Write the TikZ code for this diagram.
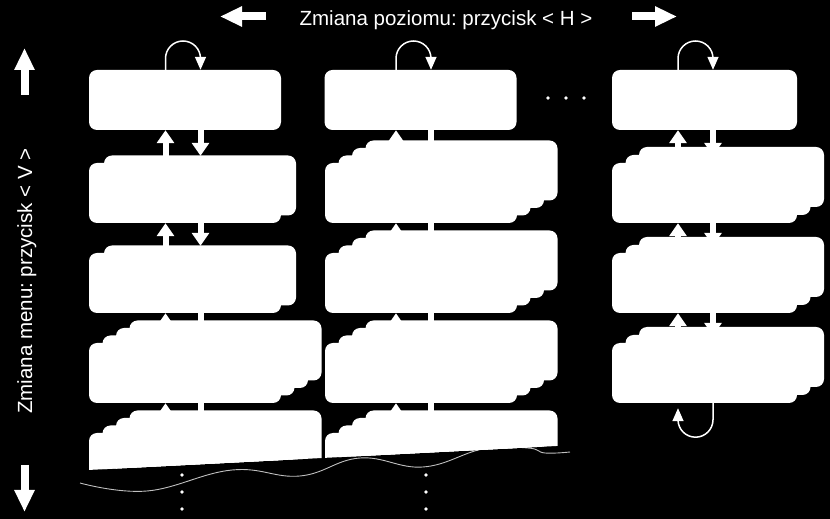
\documentclass[tikz,border=0pt]{standalone}
\usepackage{fontspec}
\setmainfont{Liberation Sans}
\frenchspacing
\usetikzlibrary{arrows.meta}
\pgfdeclarelayer{back}
\pgfsetlayers{back,main}
\tikzset{
  menu/.style={fill=white, rounded corners=8pt, minimum width=192pt, minimum height=60pt, inner sep=0pt},
  slim/.style={minimum width=185pt},
  updown/.style={draw=white, line width=6pt, -{Triangle[width=17pt,length=13pt]}},
  loopback/.style={draw=white, line width=1.5pt, -{Triangle[width=11pt,length=13pt]}},
  bigarrow/.style={draw=white, line width=8pt, -{Triangle[width=19pt,length=22pt]}},
  seam/.style={draw=white!75!black, line width=0.9pt},
  hint/.style={text=white, font=\fontsize{20.5}{24}\selectfont, anchor=base, inner sep=0pt}
}
\begin{document}
\begin{tikzpicture}[x=1pt, y=1pt]
    \useasboundingbox (0,0) rectangle (830,519);

    % x positions of the up and down arrows in each column
    \coordinate (up1) at (165.5,0);
    \coordinate (dn1) at (200.5,0);
    \coordinate (up2) at (396,0);
    \coordinate (dn2) at (431,0);
    \coordinate (up3) at (678,0);
    \coordinate (dn3) at (713,0);

    % First column
    \node[menu] (r1c1) at (185,419) {};
    \node[menu] (r2c1) at (185,326) {};
    \node[menu] (r3c1) at (185,236) {};
    \node[menu] (r4c1) at (185,146) {};

    % Second column
    \node[menu] (r1c2) at (420.5,419) {};
    \node[menu] (r2c2) at (421,326) {};
    \node[menu] (r3c2) at (421,236) {};
    \node[menu] (r4c2) at (421,146) {};

    % Last column
    \node[menu, slim] (r1c3) at (704.5,419) {};
    \node[menu, slim] (r2c3) at (704.5,326) {};
    \node[menu, slim] (r3c3) at (704.5,236) {};
    \node[menu, slim] (r4c3) at (704.5,146) {};

    % Stacked copies behind the menus with several entries
    \foreach \n in {r2c1, r3c1}
        \node[menu] (\n-1) at ([shift={(15,7.5)}]\n) {};
    \foreach \n in {r4c1, r2c2, r3c2, r4c2}
        \foreach \i in {1,2,3}
            \node[menu] (\n-\i) at ([shift={(\i*13.5,\i*7.5)}]\n) {};
    \foreach \n in {r2c3, r3c3, r4c3}
        \foreach \i in {1,2}
            \node[menu, slim] (\n-\i) at ([shift={(\i*13.5,\i*8)}]\n) {};

    % Bottom row, cut off by the slanted edge
    \begin{scope}
        \clip (80,48.6) -- (570,73.7) -- (570,130) -- (80,130) -- cycle;
        \node[menu] (r5c1) at (185,56) {};
        \node[menu] (r5c2) at (421,56) {};
        \foreach \n in {r5c1, r5c2}
            \foreach \i in {1,2,3}
                \node[menu] (\n-\i) at ([shift={(\i*13.5,\i*7.5)}]\n) {};
    \end{scope}

    % Arrows between the menus, behind the boxes
    \begin{pgfonlayer}{back}
        \fill[black] (0,0) rectangle (830,519);
        \draw[seam] plot[smooth, tension=0.7] coordinates {(80,36) (147,28) (232,49) (300,43) (360,61) (423,52) (483,70) (528,71) (545,66) (570,67)};
        \foreach \a/\b in {1/2,2/3,3/4,4/5} {
            \draw[updown] (r\b c1.north -| up1) -- (r\a c1.south -| up1);
            \draw[updown, shorten >=7pt] (r\a c1.south -| dn1) -- (r\b c1.north -| dn1);
            \draw[updown] (r\b c2.north -| up2) -- (r\a c2.south -| up2);
            \draw[updown, shorten >=7pt] (r\a c2.south -| dn2) -- (r\b c2.north -| dn2);
        }
        \foreach \a/\b in {1/2,2/3,3/4} {
            \draw[updown] (r\b c3.north -| up3) -- (r\a c3.south -| up3);
            \draw[updown, shorten >=7pt] (r\a c3.south -| dn3) -- (r\b c3.north -| dn3);
        }
    \end{pgfonlayer}

    % Loops at the ends of each column
    \draw[loopback] (r1c1.north -| up1) -- ++(0,11.3) arc[start angle=180, end angle=0, radius=17.5] -- (r1c1.north -| dn1);
    \draw[loopback] (r1c2.north -| up2) -- ++(0,11.3) arc[start angle=180, end angle=0, radius=17.5] -- (r1c2.north -| dn2);
    \draw[loopback] (r1c3.north -| up3) -- ++(0,11.3) arc[start angle=180, end angle=0, radius=17.5] -- (r1c3.north -| dn3);
    \draw[loopback, shorten >=5pt] (r4c3.south -| dn3) -- ++(0,-16.5) arc[start angle=0, end angle=-180, radius=17.5] -- (r4c3.south -| up3);

    % Dots for the hidden menus
    \foreach \x in {548,566,584} \fill[white] (\x,421) circle (1.8);
    \foreach \y in {44,27,10} {
        \fill[white] (182,\y) circle (1.8);
        \fill[white] (426,\y) circle (1.8);
    }

    % Key hints
    \node[hint] (hkey) at (446,493) {Zmiana poziomu: przycisk < H >};
    \node[hint, rotate=90] (vkey) at (32,238) {Zmiana menu: przycisk < V >};
    \draw[bigarrow] (266,502.5) -- (220,502.5);
    \draw[bigarrow] (632,502.5) -- (677,502.5);
    \draw[bigarrow] (24.5,424) -- (24.5,471);
    \draw[bigarrow] (24.5,54) -- (24.5,7);
\end{tikzpicture}
\end{document}
